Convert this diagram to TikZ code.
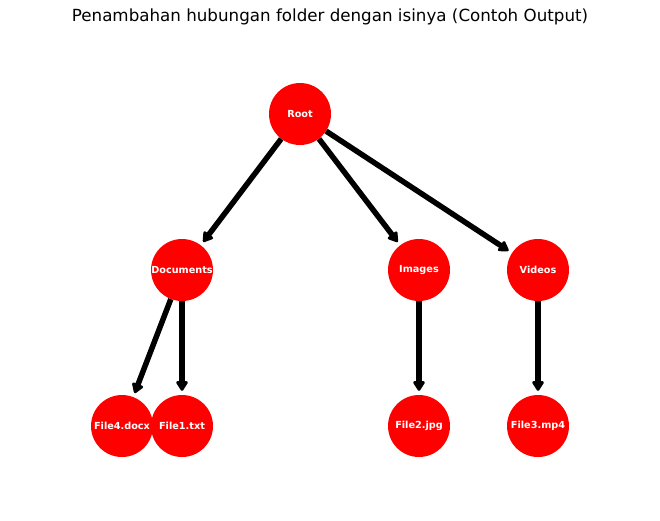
\documentclass[tikz,border=0pt]{standalone}
\usepackage{fontspec}
\setmainfont{DejaVu Sans}
\usetikzlibrary{arrows.meta}
\tikzset{
    folder-node/.style = {circle, fill=red, draw=none, minimum size=62pt, inner sep=0pt, text=white, font=\fontsize{9.7}{11}\selectfont\bfseries},
    folder-link/.style = {line width=5.5pt, -{Triangle[round, length=11pt, width=13pt]}, shorten >=4pt},
    plot-title/.style = {font=\fontsize{16.7}{20}\selectfont},
}
\begin{document}
\begin{tikzpicture}[x=1pt, y=-1pt]
\useasboundingbox (0,0) rectangle (660,520);
\node[plot-title] (title) at (330,17) {Penambahan hubungan folder dengan isinya (Contoh Output)};

\node[folder-node] (root) at (300,114) {Root};
\node[folder-node] (documents) at (182,270) {Documents};
\node[folder-node] (images) at (419,270) {Images};
\node[folder-node] (videos) at (538,270) {Videos};
\node[folder-node] (file4) at (122,426) {File4.docx};
\node[folder-node] (file1) at (182,426) {File1.txt};
\node[folder-node] (file2) at (419,426) {File2.jpg};
\node[folder-node] (file3) at (538,426) {File3.mp4};

\draw[folder-link] (root) -- (documents);
\draw[folder-link] (root) -- (images);
\draw[folder-link] (root) -- (videos);
\draw[folder-link] (documents) -- (file4);
\draw[folder-link] (documents) -- (file1);
\draw[folder-link] (images) -- (file2);
\draw[folder-link] (videos) -- (file3);
\end{tikzpicture}
\end{document}
